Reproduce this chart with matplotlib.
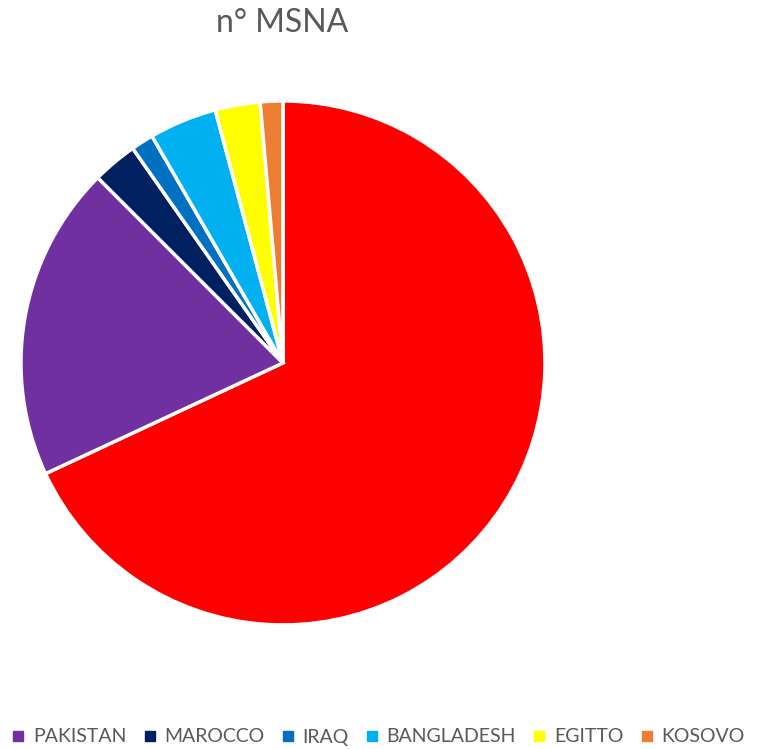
import matplotlib
matplotlib.use("Agg")
import matplotlib.pyplot as plt
from matplotlib.lines import Line2D

plt.rcParams['font.family'] = ['Lato', 'DejaVu Sans']

categories = ["ALTRI", "PAKISTAN", "MAROCCO", "IRAQ", "BANGLADESH", "EGITTO", "KOSOVO"]
values = [49, 14, 2, 1, 3, 2, 1]
colors = ["#FF0000", "#7030A0", "#002060", "#0070C0", "#00B0F0", "#FFFF00", "#ED7D31"]
legend_categories = categories[1:]

fig = plt.figure(figsize=(7.57, 7.49), dpi=100)
ax = fig.add_axes([0.0277, 0.1656, 0.6922, 0.6996])
ax.pie(values, colors=colors, startangle=90, counterclock=False,
       wedgeprops=dict(edgecolor="white", linewidth=2.5), radius=1.0)
ax.set_xlim(-1.0, 1.0)
ax.set_ylim(-1.0, 1.0)
ax.set_aspect('equal')
ax.axis('off')

fig.text(282 / 757, 1 - 23 / 749, "n° MSNA", ha='center', va='center',
         fontsize=23, color="#595959")

handles = [Line2D([0], [0], marker='s', linestyle='none', markersize=7,
                  markerfacecolor=c, markeredgecolor=c)
           for c in colors[1:]]
leg = fig.legend(handles, legend_categories, loc='center', ncol=6,
                 bbox_to_anchor=(0.5, 1 - 737 / 749), frameon=False,
                 fontsize=14, labelcolor="#595959", handlelength=0.6,
                 handletextpad=0.45, columnspacing=0.9,
                 borderpad=0.1, borderaxespad=0.1)

fig.savefig("out.png", dpi=100)
